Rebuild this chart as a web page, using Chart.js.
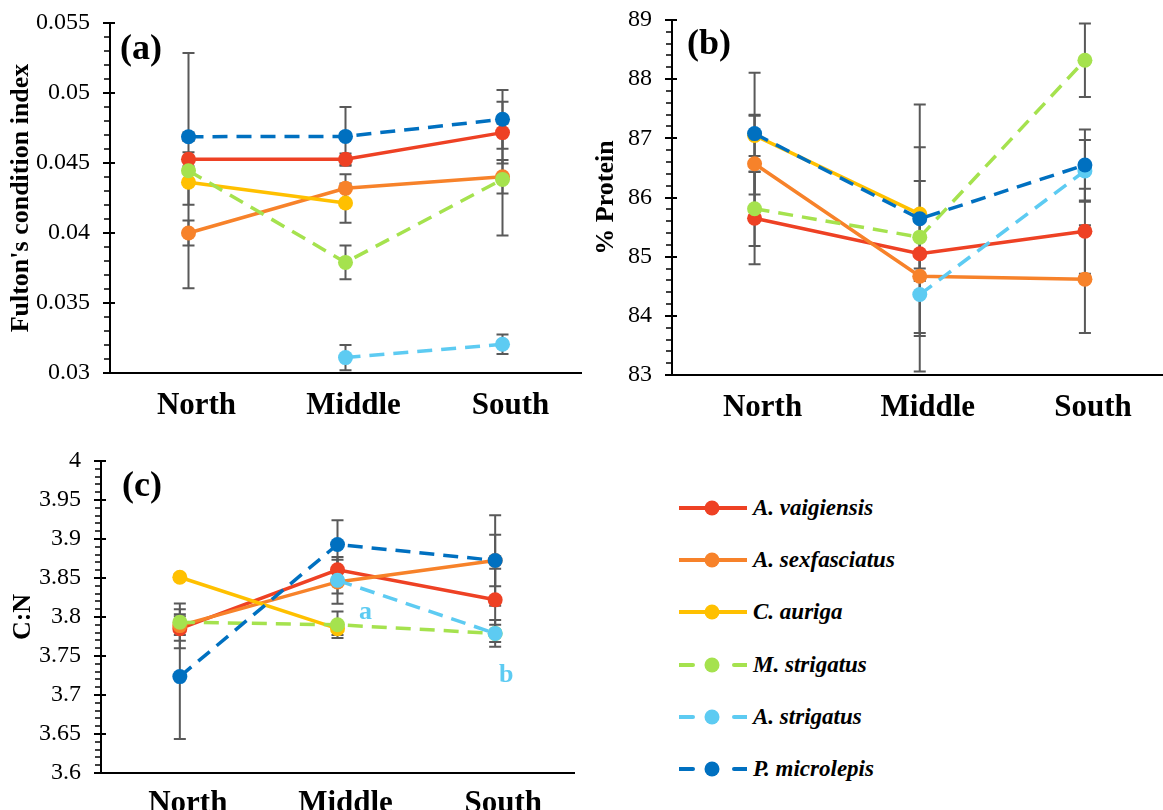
<!DOCTYPE html>
<html>
<head>
<meta charset="utf-8">
<script src="https://cdn.jsdelivr.net/npm/chart.js@4.4.1/dist/chart.umd.min.js"></script>
<style>
  html, body { margin: 0; padding: 0; background: #fff; }
  body { width: 1163px; height: 810px; overflow: hidden; position: relative; }
  canvas.panel { position: absolute; }
  .lg-row { position: absolute; left: 679px; height: 30px; display: flex; align-items: center; }
  .lg-row svg { display: block; }
  .lg-text { margin-left: 6px; font: italic bold 23px 'Liberation Serif', 'Times New Roman', serif; color: #000; white-space: nowrap; }
</style>
</head>
<body>
<canvas id="panelA" class="panel" width="595" height="430" style="left:0;top:0"></canvas>
<canvas id="panelB" class="panel" width="600" height="430" style="left:575px;top:0"></canvas>
<canvas id="panelC" class="panel" width="590" height="370" style="left:0;top:440px"></canvas>
<div id="legend"></div>

<script>
// ---- Sites and species ----
const categories = ['North', 'Middle', 'South'];
const speciesNames = ['A. vaigiensis', 'A. sexfasciatus', 'C. auriga', 'M. strigatus', 'A. strigatus', 'P. microlepis'];
const speciesColors = ['#EE4124', '#F7822A', '#FFC000', '#A5E24E', '#5DCBF2', '#0070C0'];
const speciesDashed = [false, false, false, true, true, true];

// ---- (a) Fulton's condition index: means and error (±) ----
const condVaig    = [0.04526, 0.04527, 0.04717];
const condSexf    = [0.0400, 0.04319, 0.04402];
const condAuriga  = [0.04362, 0.04214, null];
const condMStrig  = [0.04445, 0.0379, 0.04383];
const condAStrig  = [null, 0.0311, 0.03205];
const condMicro   = [0.04688, 0.0469, 0.04812];
const condVaigErr   = [0.0005, 0.0004, 0.0022];
const condSexfErr   = [0.0009, 0.0010, 0.0012];
const condAurigaErr = [0.0016, 0.0014, null];
const condMStrigErr = [0.0084, 0.0012, 0.0040];
const condAStrigErr = [null, 0.0009, 0.0007];
const condMicroErr  = [0.0003, 0.0021, 0.0021];
const condTicks = ['0.03', '0.035', '0.04', '0.045', '0.05', '0.055'];

// ---- (b) % Protein ----
const protVaig    = [85.65, 85.05, 85.43];
const protSexf    = [86.57, 84.67, 84.62];
const protAuriga  = [87.05, 85.72, null];
const protMStrig  = [85.81, 85.33, 88.32];
const protAStrig  = [null, 84.36, 86.45];
const protMicro   = [87.08, 85.64, 86.55];
const protVaigErr   = [0.78, 0.25, 0.72];
const protSexfErr   = [0.81, 1.61, 0.91];
const protAurigaErr = [0.35, 1.13, null];
const protMStrigErr = [0.63, 0.30, 0.62];
const protAStrigErr = [null, 0.70, 0.52];
const protMicroErr  = [1.03, 1.93, 0.60];
const protTicks = ['83', '84', '85', '86', '87', '88', '89'];

// ---- (c) C:N ratio ----
const cnVaig    = [3.785, 3.8605, 3.822];
const cnSexf    = [3.789, 3.845, 3.8725];
const cnAuriga  = [3.851, 3.785, null];
const cnMStrig  = [3.7934, 3.790, 3.779];
const cnAStrig  = [null, 3.847, 3.779];
const cnMicro   = [3.7236, 3.893, 3.8725];
const cnVaigErr   = [0.025, 0.013, 0.040];
const cnSexfErr   = [0.012, 0.015, 0.058];
const cnAurigaErr = [0.004, 0.008, null];
const cnMStrigErr = [0.024, 0.017, 0.011];
const cnAStrigErr = [null, 0.030, 0.017];
const cnMicroErr  = [0.080, 0.031, 0.033];
const cnTicks = ['3.6', '3.65', '3.7', '3.75', '3.8', '3.85', '3.9', '3.95', '4'];
// significance letters for A. strigatus between sites
const cnAStrigLetters = [null, 'a', 'b'];

const SERIF = "'Liberation Serif', 'Times New Roman', serif";

function buildDatasets(values, errors) {
  return values.map((vals, i) => ({
    label: speciesNames[i],
    data: vals,
    errors: errors[i],
    borderColor: speciesColors[i],
    backgroundColor: speciesColors[i],
    pointBackgroundColor: speciesColors[i],
    pointBorderColor: speciesColors[i],
    borderWidth: 3.5,
    borderDash: speciesDashed[i] ? [15, 9] : [],
    pointRadius: 7.5,
    pointHoverRadius: 7.5,
    pointBorderWidth: 0,
    tension: 0,
    spanGaps: false,
    order: values.length - i
  }));
}

// Error bars, axis tick marks, panel letter and significance letters
const panelDecor = {
  id: 'panelDecor',
  beforeDatasetsDraw(chart, args, opts) {
    const { ctx } = chart;
    const xs = chart.scales.x, ys = chart.scales.y;
    ctx.save();
    ctx.strokeStyle = '#595959';
    ctx.lineWidth = 2;
    chart.data.datasets.forEach(ds => {
      ds.data.forEach((v, i) => {
        const e = ds.errors ? ds.errors[i] : null;
        if (v == null || e == null) return;
        const px = xs.getPixelForValue(i);
        const yTop = ys.getPixelForValue(v + e);
        const yBot = ys.getPixelForValue(v - e);
        ctx.beginPath();
        ctx.moveTo(px, yTop); ctx.lineTo(px, yBot);
        ctx.moveTo(px - 6, yTop); ctx.lineTo(px + 6, yTop);
        ctx.moveTo(px - 6, yBot); ctx.lineTo(px + 6, yBot);
        ctx.stroke();
      });
    });
    ctx.restore();
  },
  afterDraw(chart, args, opts) {
    const { ctx, chartArea } = chart;
    const xs = chart.scales.x, ys = chart.scales.y;
    const ax = chartArea.left;
    ctx.save();
    ctx.strokeStyle = '#000';
    // y-axis tick marks: majors cross the axis, minors sit outside
    const n = Math.round((opts.max - opts.min) / opts.minor);
    const ratio = Math.round(opts.major / opts.minor);
    for (let k = 0; k <= n; k++) {
      const py = Math.round(ys.getPixelForValue(opts.min + k * opts.minor));
      ctx.beginPath();
      if (k % ratio === 0) {
        ctx.lineWidth = 2;
        ctx.moveTo(ax - 7, py); ctx.lineTo(ax + 5, py);
      } else {
        ctx.lineWidth = 1.5;
        ctx.moveTo(ax - 6, py); ctx.lineTo(ax, py);
      }
      ctx.stroke();
    }
    // panel letter
    ctx.fillStyle = '#000';
    ctx.font = 'bold 36px ' + SERIF;
    ctx.textAlign = 'left';
    ctx.textBaseline = 'middle';
    ctx.fillText(opts.letter, chartArea.left + opts.letterDx, chartArea.top + opts.letterDy);
    // significance letters
    (opts.marks || []).forEach(m => {
      m.letters.forEach((t, i) => {
        if (!t) return;
        const v = chart.data.datasets[m.dataset].data[i];
        ctx.font = 'bold 26px ' + SERIF;
        ctx.fillStyle = m.color;
        ctx.textAlign = 'center';
        ctx.fillText(t, xs.getPixelForValue(i) + m.offsets[i][0], ys.getPixelForValue(v) + m.offsets[i][1]);
      });
    });
    ctx.restore();
  }
};

function makePanel(id, cfg) {
  return new Chart(document.getElementById(id), {
    type: 'line',
    data: { labels: categories, datasets: buildDatasets(cfg.values, cfg.errors) },
    plugins: [panelDecor],
    options: {
      responsive: false,
      animation: false,
      devicePixelRatio: 1,
      layout: { padding: cfg.padding },
      plugins: {
        legend: { display: false },
        tooltip: { enabled: false },
        panelDecor: cfg.decor
      },
      scales: {
        x: {
          type: 'category',
          offset: true,
          grid: { display: false, drawTicks: false },
          border: { display: true, color: '#000', width: 2 },
          ticks: {
            color: '#000',
            font: { family: SERIF, size: 31, weight: 'bold' },
            padding: cfg.xPad,
            labelOffset: 8,
            autoSkip: false,
            maxRotation: 0
          },
          afterFit(s) { s.height = cfg.xHeight; }
        },
        y: {
          min: cfg.decor.min,
          max: cfg.decor.max,
          // invisible tick marks only reserve the gap between labels and the axis line
          grid: { display: true, drawOnChartArea: false, drawTicks: true, tickLength: 20, tickColor: 'rgba(0,0,0,0)' },
          border: { display: true, color: '#000', width: 2 },
          ticks: {
            stepSize: cfg.decor.major,
            autoSkip: false,
            color: '#000',
            font: { family: SERIF, size: 24 },
            padding: 0,
            callback: (v, i) => cfg.tickLabels[i] !== undefined ? cfg.tickLabels[i] : String(v)
          },
          title: {
            display: true,
            text: cfg.title,
            color: '#000',
            font: { family: SERIF, size: 26, weight: 'bold' },
            padding: { top: cfg.titlePad, bottom: 0 }
          },
          afterFit(s) { s.width = cfg.yWidth; }
        }
      }
    }
  });
}

makePanel('panelA', {
  values: [condVaig, condSexf, condAuriga, condMStrig, condAStrig, condMicro],
  errors: [condVaigErr, condSexfErr, condAurigaErr, condMStrigErr, condAStrigErr, condMicroErr],
  tickLabels: condTicks,
  title: "Fulton's condition index",
  padding: { left: 0, top: 23, right: 14, bottom: 0 },
  yWidth: 110, xHeight: 57, xPad: 14, titlePad: 6,
  decor: { min: 0.03, max: 0.055, major: 0.005, minor: 0.001, letter: '(a)', letterDx: 10, letterDy: 27 }
});

makePanel('panelB', {
  values: [protVaig, protSexf, protAuriga, protMStrig, protAStrig, protMicro],
  errors: [protVaigErr, protSexfErr, protAurigaErr, protMStrigErr, protAStrigErr, protMicroErr],
  tickLabels: protTicks,
  title: '% Protein',
  padding: { left: 0, top: 20, right: 5, bottom: 0 },
  yWidth: 97, xHeight: 55, xPad: 14, titlePad: 16,
  decor: { min: 83, max: 89, major: 1, minor: 0.2, letter: '(b)', letterDx: 15, letterDy: 25 }
});

makePanel('panelC', {
  values: [cnVaig, cnSexf, cnAuriga, cnMStrig, cnAStrig, cnMicro],
  errors: [cnVaigErr, cnSexfErr, cnAurigaErr, cnMStrigErr, cnAStrigErr, cnMicroErr],
  tickLabels: cnTicks,
  title: 'C:N',
  padding: { left: 0, top: 21, right: 16, bottom: 0 },
  yWidth: 101, xHeight: 37, xPad: 12, titlePad: 8,
  decor: {
    min: 3.6, max: 4.0, major: 0.05, minor: 0.01, letter: '(c)', letterDx: 21, letterDy: 26,
    marks: [{ dataset: 4, letters: cnAStrigLetters, color: speciesColors[4], offsets: [[0, 0], [28, 32], [11, 42]] }]
  }
});

// Shared species legend
const legend = document.getElementById('legend');
speciesNames.forEach((name, i) => {
  const row = document.createElement('div');
  row.className = 'lg-row';
  row.style.top = (508 + i * 52.2 - 15) + 'px';
  const c = speciesColors[i];
  const line = speciesDashed[i]
    ? `<line x1="0" y1="15" x2="14" y2="15" stroke="${c}" stroke-width="4" stroke-linecap="round"/>` +
      `<line x1="55" y1="15" x2="68" y2="15" stroke="${c}" stroke-width="4" stroke-linecap="round"/>`
    : `<line x1="0" y1="15" x2="68" y2="15" stroke="${c}" stroke-width="4" stroke-linecap="round"/>`;
  row.innerHTML = `<svg width="68" height="30">${line}<circle cx="33" cy="15" r="7.5" fill="${c}"/></svg>` +
    `<span class="lg-text">${name}</span>`;
  legend.appendChild(row);
});
</script>
</body>
</html>
